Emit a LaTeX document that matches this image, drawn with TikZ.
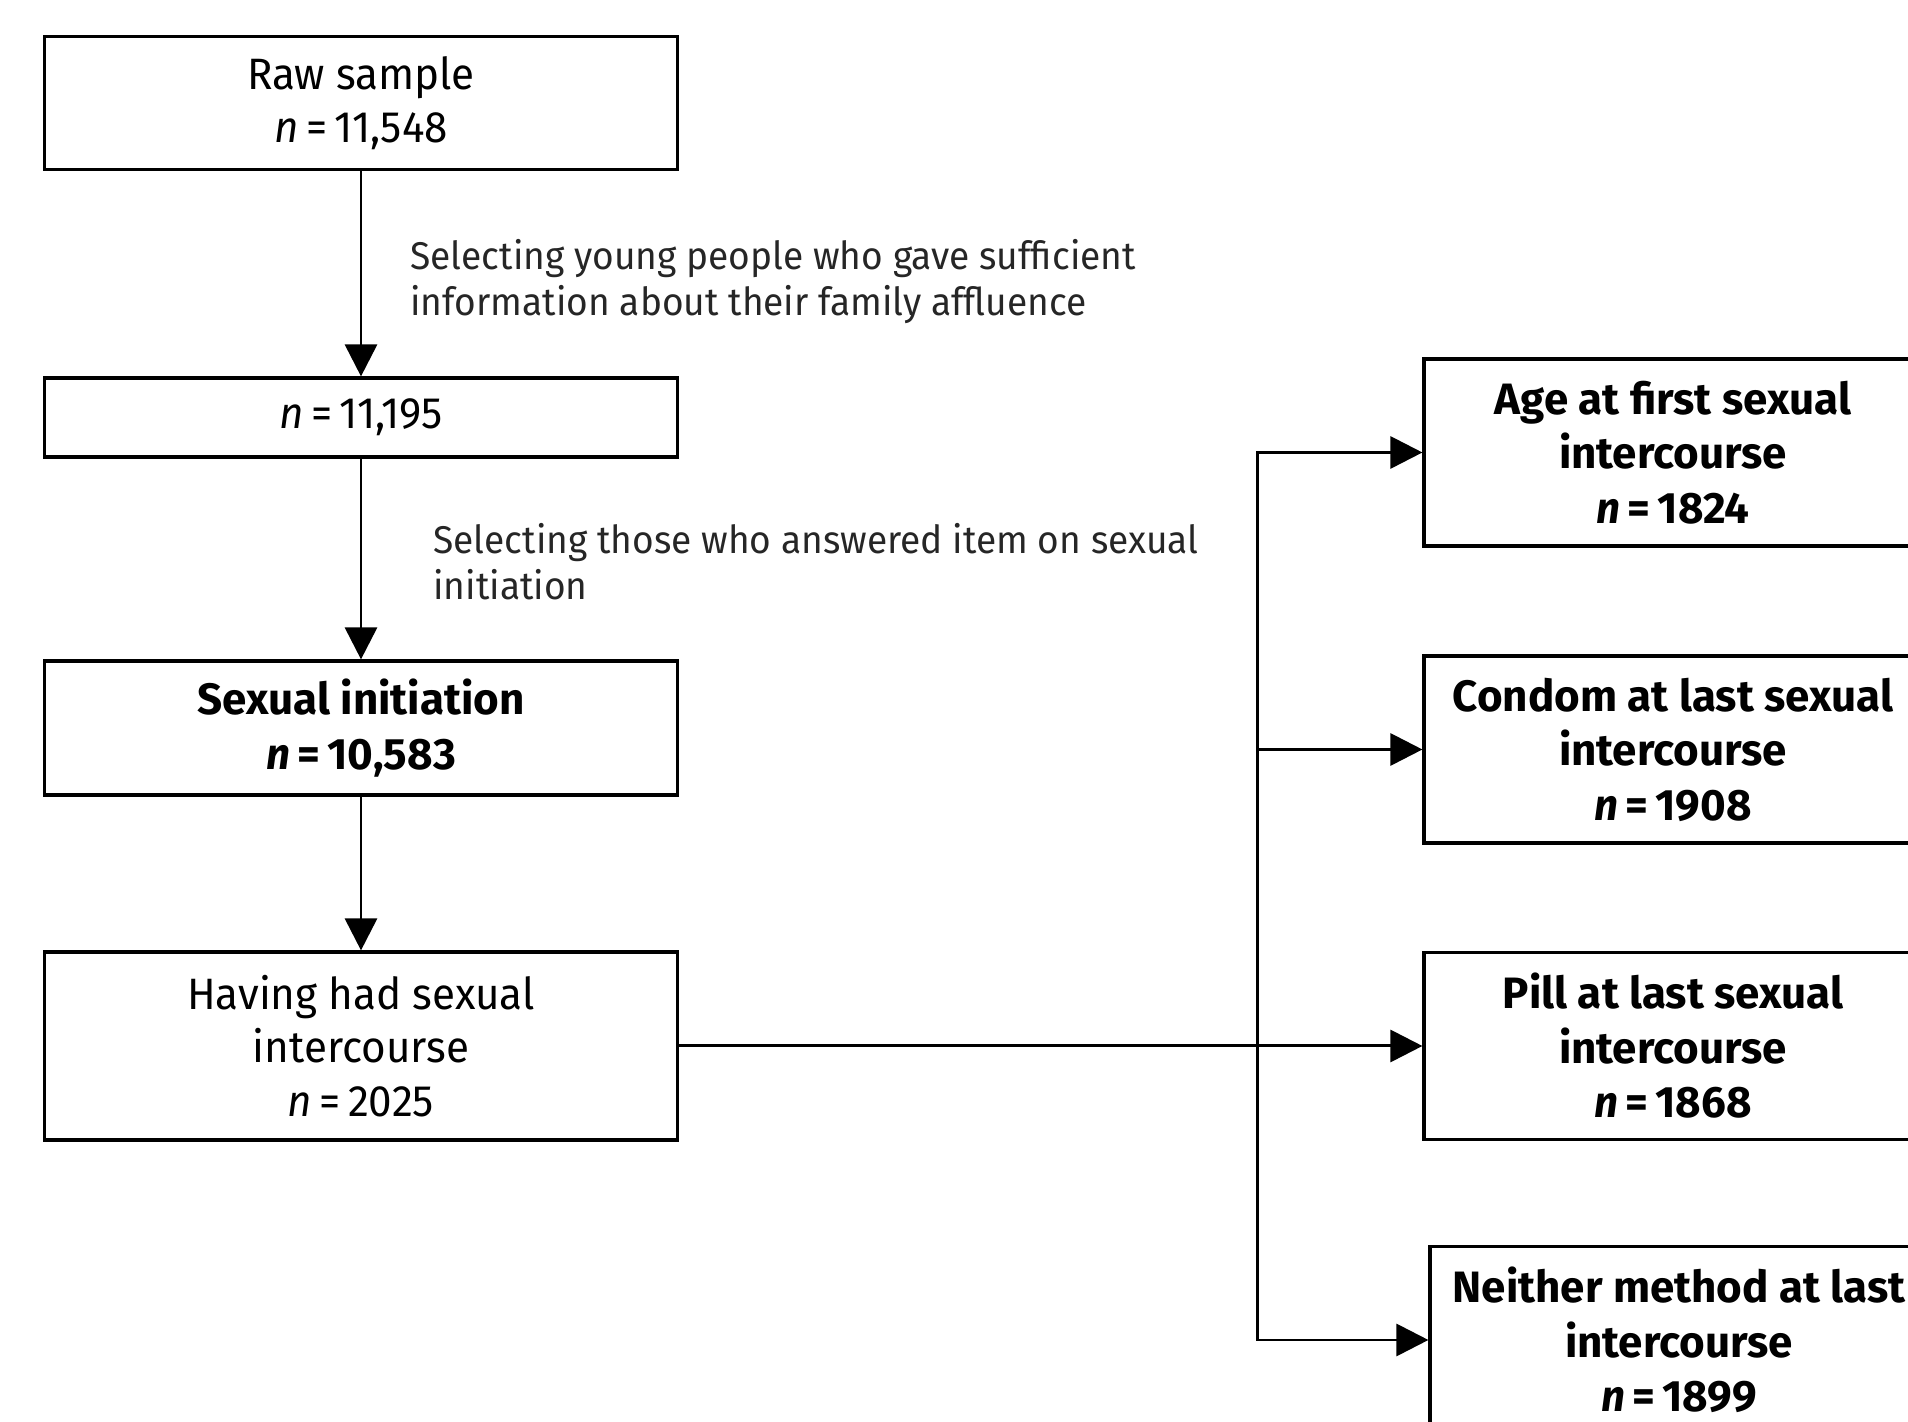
\documentclass[tikz,border=0pt]{standalone}
\usepackage{fontspec}
\setmainfont[FakeStretch=0.96, BoldFeatures={FakeStretch=1.0}]{Fira Sans}
\usetikzlibrary{arrows.meta, positioning}
\tikzset{
  samplebox/.style={rectangle, draw=black, line width=1.8pt,
    minimum width=12.66cm, inner sep=0pt,
    font=\fontsize{25}{30.5}\selectfont, align=center},
  outcome/.style={samplebox, minimum width=9.96cm, minimum height=3.74cm,
    font=\fontsize{25}{31}\selectfont\bfseries},
  flow/.style={-{Triangle[length=0.64cm, width=0.64cm]}, line width=1.7pt},
  flabel/.style={font=\fontsize{22}{26}\selectfont, align=left,
    text=black!85, inner sep=0pt, anchor=west}
}

\begin{document}
\begin{tikzpicture}

\useasboundingbox (0,0) rectangle (38.16,28.44);
\clip (0,0) rectangle (38.16,28.44);

%% Sample selection
\node[samplebox, minimum height=2.66cm] (raw) at (7.22, 26.38) {Raw sample\\\textit{n}\,=\,11,548};
\node[samplebox, minimum height=1.58cm] (fas) at (7.22, 20.09) {\textit{n}\,=\,11,195};
\node[samplebox, minimum height=2.68cm, font=\fontsize{25}{31}\selectfont\bfseries]
  (init) at (7.22, 13.88) {Sexual initiation\\\textit{n}\,=\,10,583};
\node[samplebox, minimum height=3.76cm] (had) at (7.22, 7.52) {Having had sexual\\intercourse\\\textit{n}\,=\,2025};

%% Outcomes
\node[outcome] (age)     at (33.46, 19.39) {Age at first sexual\\intercourse\\\textit{n}\,=\,1824};
\node[outcome] (condom)  at (33.46, 13.45) {Condom at last sexual\\intercourse\\\textit{n}\,=\,1908};
\node[outcome] (pill)    at (33.46,  7.52) {Pill at last sexual\\intercourse\\\textit{n}\,=\,1868};
\node[outcome] (neither) at (33.58,  1.64) {Neither method at last\\intercourse\\\textit{n}\,=\,1899};

%% ── selection steps
\draw[flow] (raw) -- (fas)
  node[flabel, midway, xshift=0.96cm, yshift=-0.15cm] {Selecting young people who gave sufficient\\information about their family affluence};
\draw[flow] (fas) -- (init)
  node[flabel, midway, xshift=1.42cm, yshift=-0.05cm] {Selecting those who answered item on sexual\\initiation};
\draw[flow] (init) -- (had);

%% ── split to outcomes
\coordinate (trunk) at (25.14, 7.52);
\draw[flow] (had.east) -- (pill.west);
\draw[flow] (trunk |- neither.west) |- (age.west);
\draw[flow] (trunk |- age.west) |- (neither.west);
\draw[flow] (trunk |- condom.west) -- (condom.west);

\end{tikzpicture}
\end{document}
